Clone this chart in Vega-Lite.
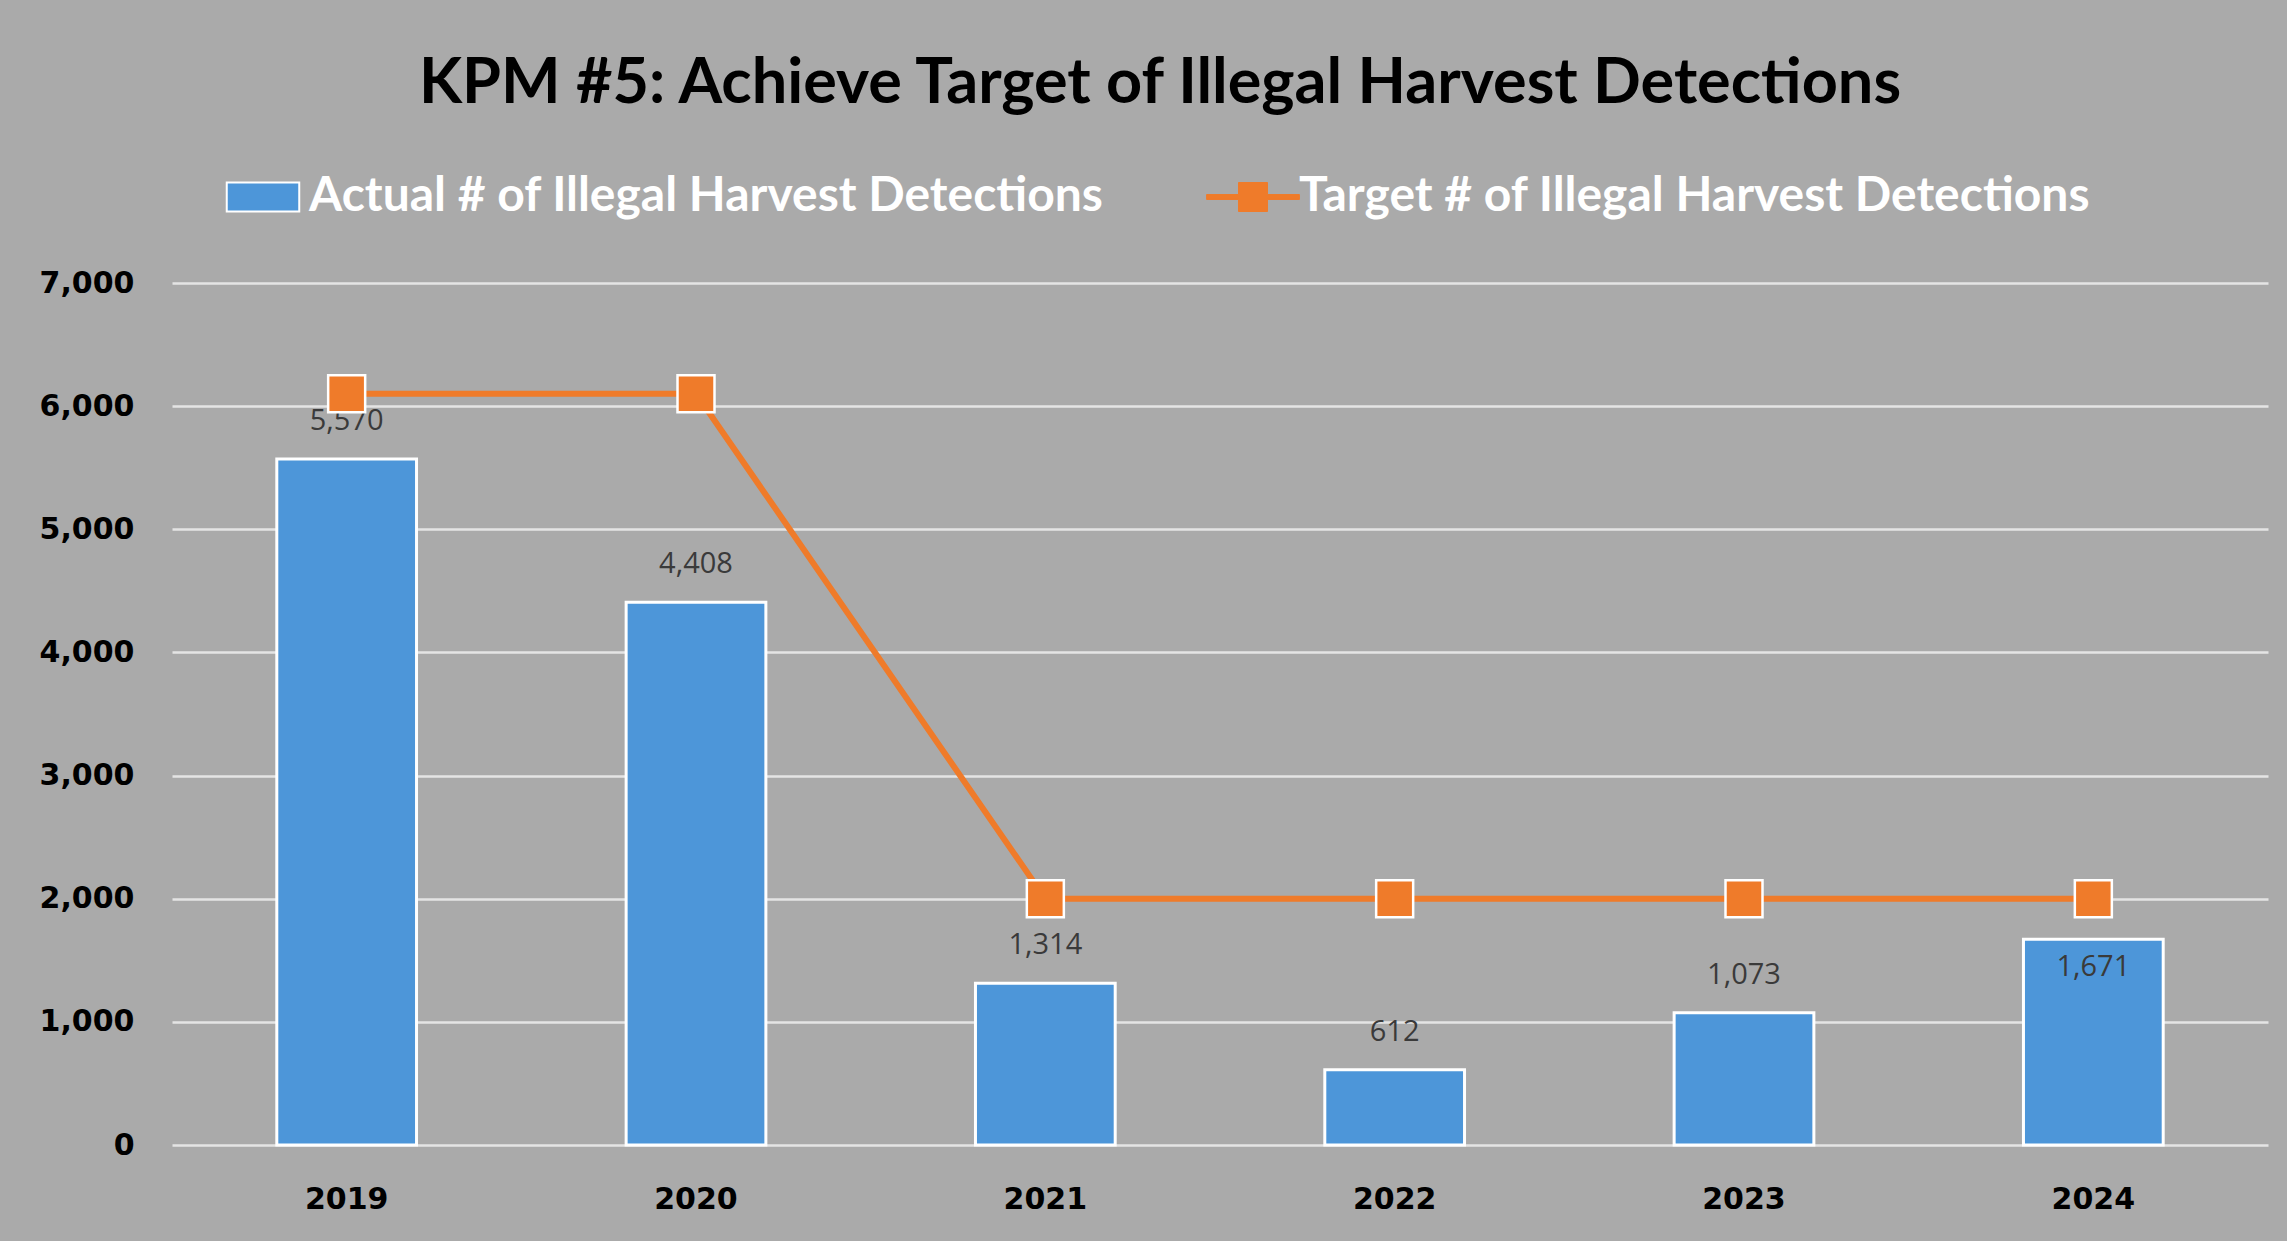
{
  "$schema": "https://vega.github.io/schema/vega-lite/v6.json",
  "autosize": {"type": "none"},
  "width": 2096,
  "height": 862,
  "padding": {"left": 172, "top": 283, "right": 19, "bottom": 96},
  "background": "#aaaaaa",
  "title": {
    "text": "KPM #5:  Achieve Target of Illegal Harvest Detections",
    "font": "Lato",
    "fontSize": 63,
    "fontWeight": "bold",
    "color": "#000000",
    "anchor": "middle",
    "dx": -60,
    "offset": 57
  },
  "data": {
    "values": [
      {"year": "2019", "actual": 5570, "target": 6100},
      {"year": "2020", "actual": 4408, "target": 6100},
      {"year": "2021", "actual": 1314, "target": 2000},
      {"year": "2022", "actual": 612, "target": 2000},
      {"year": "2023", "actual": 1073, "target": 2000},
      {"year": "2024", "actual": 1671, "target": 2000}
    ]
  },
  "encoding": {
    "x": {
      "field": "year",
      "type": "ordinal",
      "scale": {"paddingInner": 0.6, "paddingOuter": 0.3},
      "axis": {
        "title": null,
        "labelAngle": 0,
        "labelFont": "DejaVu Sans",
        "labelFontWeight": "bold",
        "labelFontSize": 30,
        "labelColor": "#000000",
        "labelPadding": 39,
        "ticks": false,
        "domain": false,
        "grid": false
      }
    }
  },
  "layer": [
    {
      "mark": {"type": "bar", "stroke": "#ffffff", "strokeWidth": 3},
      "encoding": {
        "y": {
          "field": "actual",
          "type": "quantitative",
          "scale": {"domain": [0, 7000], "nice": false},
          "axis": {
            "title": null,
            "values": [0, 1000, 2000, 3000, 4000, 5000, 6000, 7000],
            "format": ",.0f",
            "labelFont": "DejaVu Sans",
            "labelFontWeight": "bold",
            "labelFontSize": 30,
            "labelColor": "#000000",
            "labelPadding": 38,
            "ticks": false,
            "domain": false,
            "grid": true,
            "gridColor": "#e4e4e4",
            "gridWidth": 2.5
          }
        },
        "fill": {
          "datum": "Actual # of Illegal Harvest Detections",
          "scale": {
            "domain": ["Actual # of Illegal Harvest Detections"],
            "range": ["#4d96d9"]
          },
          "legend": {
            "title": null,
            "orient": "none",
            "direction": "horizontal",
            "legendX": 67,
            "legendY": -110,
            "padding": 0,
            "labelFont": "Lato",
            "labelFontWeight": "bold",
            "labelFontSize": 48,
            "labelColor": "#ffffff",
            "labelLimit": 0,
            "labelOffset": 22,
            "symbolSize": 841,
            "symbolType": "M-2.5,-1H2.5V1H-2.5Z",
            "symbolStrokeColor": "#ffffff",
            "symbolStrokeWidth": 2,
            "symbolOpacity": 1
          }
        }
      }
    },
    {
      "transform": [{"filter": "datum.year !== '2024'"}],
      "mark": {"type": "text", "dy": -38, "font": "Open Sans", "fontSize": 29, "color": "#3a3a3a", "baseline": "middle"},
      "encoding": {
        "y": {"field": "actual", "type": "quantitative"},
        "text": {"field": "actual", "type": "quantitative", "format": ",.0f"}
      }
    },
    {
      "transform": [{"filter": "datum.year === '2024'"}],
      "mark": {"type": "text", "dy": 28, "font": "Open Sans", "fontSize": 29, "color": "#3a3a3a", "baseline": "middle"},
      "encoding": {
        "y": {"field": "actual", "type": "quantitative"},
        "text": {"field": "actual", "type": "quantitative", "format": ",.0f"}
      }
    },
    {
      "mark": {"type": "line", "strokeWidth": 6},
      "encoding": {
        "y": {"field": "target", "type": "quantitative"},
        "stroke": {
          "datum": "Target # of Illegal Harvest Detections",
          "scale": {
            "domain": ["Target # of Illegal Harvest Detections"],
            "range": ["#ef7b2a"]
          },
          "legend": {
            "title": null,
            "orient": "none",
            "direction": "horizontal",
            "legendX": 1057,
            "legendY": -110,
            "padding": 0,
            "labelFont": "Lato",
            "labelFontWeight": "bold",
            "labelFontSize": 48,
            "labelColor": "#ffffff",
            "labelLimit": 0,
            "labelOffset": 22,
            "symbolSize": 841,
            "symbolType": "M-3.2,-0.17H-1V-1H1V-0.17H3.2V0.17H1V1H-1V0.17H-3.2Z",
            "symbolFillColor": "#ef7b2a",
            "symbolStrokeWidth": 1,
            "symbolOpacity": 1
          }
        }
      }
    },
    {
      "mark": {"type": "point", "shape": "square", "filled": true, "size": 1369, "fill": "#ef7b2a", "stroke": "#ffffff", "strokeWidth": 2.5, "opacity": 1},
      "encoding": {
        "y": {"field": "target", "type": "quantitative"}
      }
    }
  ],
  "config": {
    "view": {"stroke": null}
  }
}
